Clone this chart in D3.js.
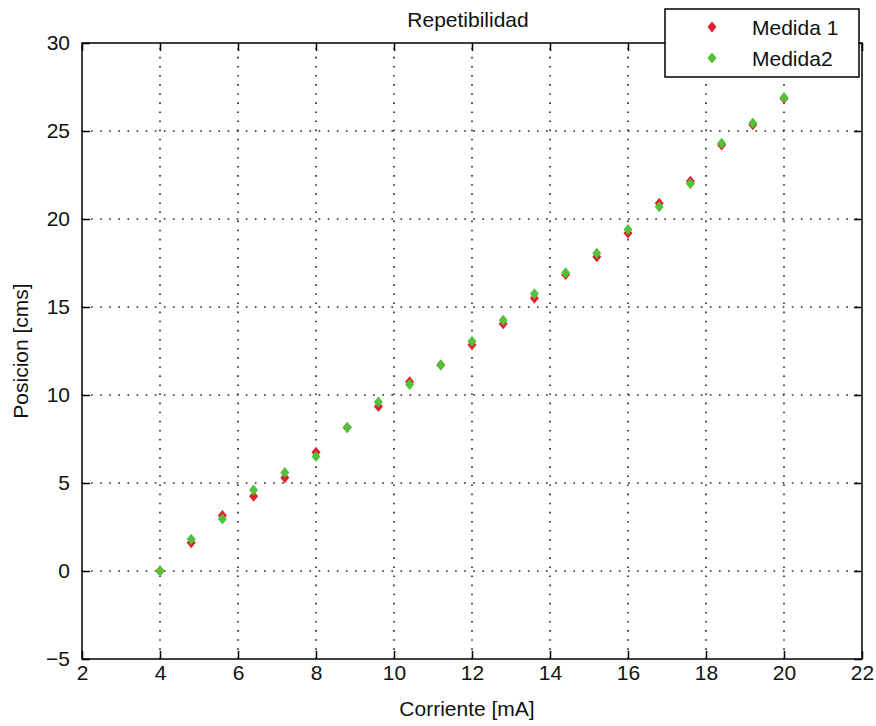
<!DOCTYPE html>
<html>
<head>
<meta charset="utf-8">
<script src="https://cdn.jsdelivr.net/npm/d3@7"></script>
<style>
  body { margin: 0; background: #fff; }
  svg text { font-family: "Liberation Sans", Arial, sans-serif; fill: #111; }
</style>
</head>
<body>
<div id="chart"></div>
<script>
(function () {
  'use strict';

  // data
  var corriente = [4, 4.8, 5.6, 6.4, 7.2, 8, 8.8, 9.6, 10.4, 11.2, 12, 12.8, 13.6, 14.4, 15.2, 16, 16.8, 17.6, 18.4, 19.2, 20];
  var medida1 = [0, 1.6, 3.15, 4.25, 5.3, 6.75, 8.15, 9.35, 10.75, 11.7, 12.85, 14.05, 15.5, 16.85, 17.85, 19.2, 20.9, 22.15, 24.2, 25.35, 26.85];
  var medida2 = [0, 1.8, 2.95, 4.6, 5.6, 6.5, 8.15, 9.6, 10.6, 11.7, 13.05, 14.25, 15.75, 16.95, 18.05, 19.4, 20.7, 22.0, 24.3, 25.45, 26.9];
  var xTicks = [2, 4, 6, 8, 10, 12, 14, 16, 18, 20, 22];
  var yTicks = [-5, 0, 5, 10, 15, 20, 25, 30];
  var seriesNames = ['Medida 1', 'Medida2'];
  var seriesColors = ['#e0202e', '#52c23a'];

  var width = 876, height = 726;
  var margin = { top: 43, right: 14, bottom: 67, left: 82 };
  var w = width - margin.left - margin.right;
  var h = height - margin.top - margin.bottom;

  var svg = d3.select('#chart').append('svg')
    .attr('width', width)
    .attr('height', height);

  var g = svg.append('g')
    .attr('transform', 'translate(' + margin.left + ',' + margin.top + ')');

  var x = d3.scaleLinear().domain([2, 22]).range([0, w]);
  var y = d3.scaleLinear().domain([-5, 30]).range([h, 0]);

  // dotted grid at the inner ticks
  g.append('g').selectAll('line.gx')
    .data(xTicks.slice(1, -1))
    .enter().append('line')
    .attr('x1', x).attr('x2', x)
    .attr('y1', h).attr('y2', 0)
    .attr('stroke', '#222')
    .attr('stroke-width', 1.6)
    .attr('stroke-dasharray', '1.6,7.5');

  g.append('g').selectAll('line.gy')
    .data(yTicks.slice(1, -1))
    .enter().append('line')
    .attr('y1', y).attr('y2', y)
    .attr('x1', 0).attr('x2', w)
    .attr('stroke', '#222')
    .attr('stroke-width', 1.6)
    .attr('stroke-dasharray', '1.6,7.5');

  // axes with inward ticks
  function styleAxis(sel) {
    sel.select('.domain').remove();
    sel.selectAll('line').attr('stroke', '#000').attr('stroke-width', 1.5);
    sel.selectAll('text').style('font-size', '21px').attr('fill', '#111');
  }

  g.append('g')
    .attr('transform', 'translate(0,' + h + ')')
    .call(d3.axisBottom(x).tickValues(xTicks).tickSizeInner(-8).tickSizeOuter(0).tickPadding(6))
    .call(styleAxis);

  g.append('g')
    .call(d3.axisLeft(y).tickValues(yTicks).tickSizeInner(-8).tickSizeOuter(0).tickPadding(12))
    .call(styleAxis);

  g.append('g')
    .call(d3.axisTop(x).tickValues(xTicks).tickSizeInner(-8).tickSizeOuter(0).tickFormat(''))
    .call(styleAxis);

  g.append('g')
    .attr('transform', 'translate(' + w + ',0)')
    .call(d3.axisRight(y).tickValues(yTicks).tickSizeInner(-8).tickSizeOuter(0).tickFormat(''))
    .call(styleAxis);

  // box round the plot area
  g.append('rect')
    .attr('width', w).attr('height', h)
    .attr('fill', 'none')
    .attr('stroke', '#000')
    .attr('stroke-width', 1.5);

  // markers, Medida2 drawn on top
  var marker = 'M0,-5.5L4.5,0L0,5.5L-4.5,0Z';
  [medida1, medida2].forEach(function (vals, k) {
    g.append('g').selectAll('path')
      .data(vals)
      .enter().append('path')
      .attr('d', marker)
      .attr('transform', function (d, i) {
        return 'translate(' + x(corriente[i]) + ',' + y(d) + ')';
      })
      .attr('fill', seriesColors[k]);
  });

  // titles
  svg.append('text')
    .attr('x', margin.left + w / 2 - 4)
    .attr('y', 27)
    .attr('text-anchor', 'middle')
    .style('font-size', '21px')
    .text('Repetibilidad');

  svg.append('text')
    .attr('x', margin.left + w / 2 - 5)
    .attr('y', 716)
    .attr('text-anchor', 'middle')
    .style('font-size', '21px')
    .text('Corriente [mA]');

  svg.append('text')
    .attr('transform', 'translate(28,' + (margin.top + h / 2) + ') rotate(-90)')
    .attr('text-anchor', 'middle')
    .style('font-size', '21px')
    .text('Posicion [cms]');

  // legend
  var legend = svg.append('g').attr('transform', 'translate(665,9)');
  legend.append('rect')
    .attr('width', 194).attr('height', 68)
    .attr('fill', '#fff')
    .attr('stroke', '#000')
    .attr('stroke-width', 1.5);

  var items = legend.selectAll('g.item')
    .data(seriesNames)
    .enter().append('g')
    .attr('transform', function (d, i) { return 'translate(0,' + (18 + i * 31) + ')'; });

  items.append('path')
    .attr('d', marker)
    .attr('transform', 'translate(47,0)')
    .attr('fill', function (d, i) { return seriesColors[i]; });

  items.append('text')
    .attr('x', 87)
    .attr('y', 8)
    .style('font-size', '21px')
    .text(function (d) { return d; });
}());
</script>
</body>
</html>
